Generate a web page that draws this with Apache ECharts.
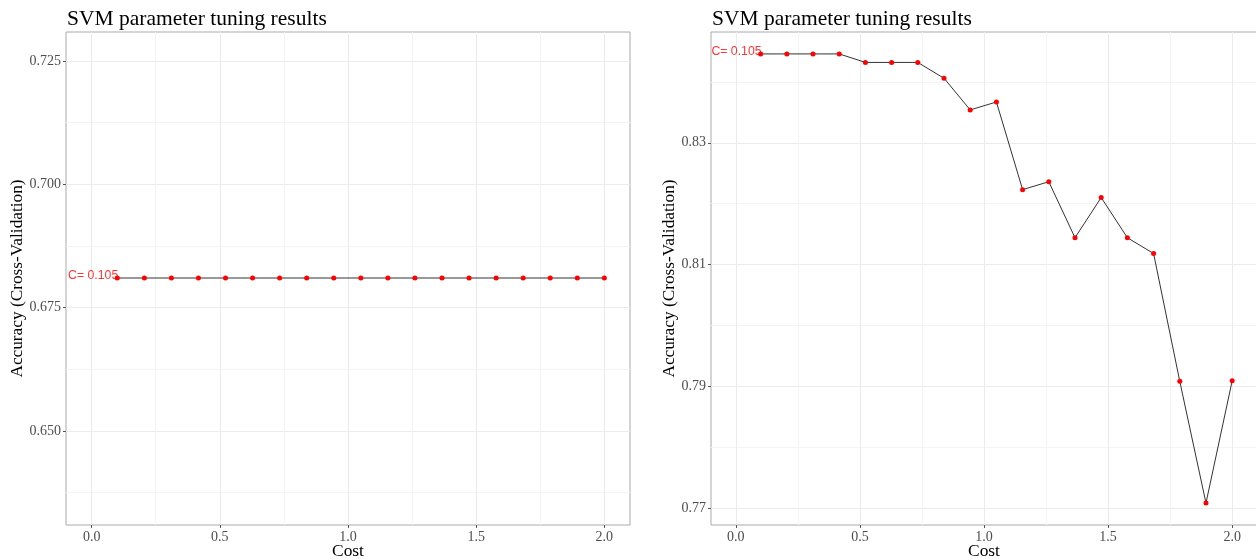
<!DOCTYPE html>
<html><head><meta charset="utf-8">
<script src="https://cdn.jsdelivr.net/npm/echarts@6/dist/echarts.min.js"></script>
<style>html,body{margin:0;padding:0;background:#fff;overflow:hidden}#c{width:1256px;height:559px}</style>
</head><body><div id="c"></div>
<script>
const costs = [0.1, 0.2056, 0.3111, 0.4167, 0.5222, 0.6278, 0.7333, 0.8389, 0.9444, 1.05, 1.1556, 1.2611, 1.3667, 1.4722, 1.5778, 1.6833, 1.7889, 1.8944, 2.0];
const accLeft = [0.681, 0.681, 0.681, 0.681, 0.681, 0.681, 0.681, 0.681, 0.681, 0.681, 0.681, 0.681, 0.681, 0.681, 0.681, 0.681, 0.681, 0.681, 0.681];
const accRight = [0.8446, 0.8446, 0.8446, 0.8446, 0.8432, 0.8432, 0.8432, 0.8406, 0.8354, 0.8367, 0.8223, 0.8236, 0.8144, 0.8210, 0.8144, 0.8118, 0.7908, 0.7708, 0.7909];
const bestLabel = 'C= 0.105';
const titleText = 'SVM parameter tuning results';
const xTicks = [0, 0.5, 1, 1.5, 2];
const xMinor = [0.25, 0.75, 1.25, 1.75];
const yTicksLeft = [0.650, 0.675, 0.700, 0.725];
const yMinorLeft = [0.6375, 0.6625, 0.6875, 0.7125];
const yTicksRight = [0.77, 0.79, 0.81, 0.83];
const yMinorRight = [0.78, 0.80, 0.82, 0.84];

const serif = 'Liberation Serif';
const grids = [
  {left: 66, top: 32, width: 564, height: 493},
  {left: 711, top: 32, width: 546, height: 493}
];
function xMajor(gi){
  return {type:'value', gridIndex:gi, min:-0.1, max:2.1,
    name:'Cost', nameLocation:'middle', nameGap:18, nameMoveOverlap:false,
    nameTextStyle:{fontFamily:serif, fontSize:17.4, color:'#000'},
    axisLine:{show:false, onZero:false},
    axisTick:{show:true, length:3, customValues:xTicks, lineStyle:{color:'#555'}},
    axisLabel:{customValues:xTicks, margin:5, fontFamily:serif, fontSize:14, color:'#4D4D4D', formatter:v=>v.toFixed(1)},
    splitLine:{show:true, lineStyle:{color:'#EBEBEB', width:1}}
  };
}
function xMinorAxis(gi){
  return {type:'value', gridIndex:gi, min:-0.1, max:2.1,
    axisLine:{show:false, onZero:false}, axisLabel:{show:false},
    axisTick:{show:false, customValues:xMinor},
    splitLine:{show:true, lineStyle:{color:'#F4F4F4', width:1}}
  };
}
function yMajor(gi, mn, mx, ticks, dec, gap){
  return {type:'value', gridIndex:gi, min:mn, max:mx,
    name:'Accuracy (Cross-Validation)', nameLocation:'middle', nameGap:gap, nameRotate:90,
    nameTextStyle:{fontFamily:serif, fontSize:17.3, color:'#000'},
    axisLine:{show:false, onZero:false},
    axisTick:{show:true, length:3, customValues:ticks, lineStyle:{color:'#555'}},
    axisLabel:{customValues:ticks, margin:5, fontFamily:serif, fontSize:14, color:'#4D4D4D', formatter:v=>v.toFixed(dec)},
    splitLine:{show:true, lineStyle:{color:'#EBEBEB', width:1}}
  };
}
function yMinorAxis(gi, mn, mx, ticks){
  return {type:'value', gridIndex:gi, min:mn, max:mx,
    axisLine:{show:false, onZero:false}, axisLabel:{show:false},
    axisTick:{show:false, customValues:ticks},
    splitLine:{show:true, lineStyle:{color:'#F4F4F4', width:1}}
  };
}
function zip(xs, ys){ return xs.map((x,i)=>[x, ys[i]]); }
function lineSeries(xi, yi, data){
  return {type:'line', xAxisIndex:xi, yAxisIndex:yi, data:data,
    symbol:'circle', symbolSize:5, showSymbol:true,
    itemStyle:{color:'#FF0000'}, lineStyle:{color:'#333333', width:1},
    emphasis:{disabled:true}, animation:false, z:3};
}
function labelSeries(xi, yi, pt){
  return {type:'scatter', xAxisIndex:xi, yAxisIndex:yi, data:[pt], symbolSize:0,
    label:{show:true, position:'left', distance:-1, offset:[0,-2], formatter:bestLabel,
      fontFamily:'Liberation Sans', fontSize:12.3, color:'#FF0000'},
    animation:false, z:4, silent:true};
}
const chart = echarts.init(document.getElementById('c'), null, {renderer:'canvas'});
chart.setOption({
  backgroundColor:'#fff',
  animation:false,
  title:[
    {text:titleText, left:62, top:3, textStyle:{fontFamily:serif, fontSize:21.5, fontWeight:'normal', color:'#000'}},
    {text:titleText, left:707, top:3, textStyle:{fontFamily:serif, fontSize:21.5, fontWeight:'normal', color:'#000'}}
  ],
  grid: grids.map(g=>Object.assign({show:true, borderColor:'#AAAAAA', borderWidth:1, backgroundColor:'transparent', containLabel:false, outerBoundsMode:'none'}, g)),
  xAxis:[xMajor(0), xMinorAxis(0), xMajor(1), xMinorAxis(1)],
  yAxis:[
    yMajor(0, 0.6309, 0.7309, yTicksLeft, 3, 40),
    yMinorAxis(0, 0.6309, 0.7309, yMinorLeft),
    yMajor(1, 0.7672, 0.8482, yTicksRight, 2, 30),
    yMinorAxis(1, 0.7672, 0.8482, yMinorRight)
  ],
  series:[
    lineSeries(0, 0, zip(costs, accLeft)),
    labelSeries(0, 0, [costs[0], accLeft[0]]),
    lineSeries(2, 2, zip(costs, accRight)),
    labelSeries(2, 2, [costs[0], accRight[0]])
  ]
});
</script></body></html>
